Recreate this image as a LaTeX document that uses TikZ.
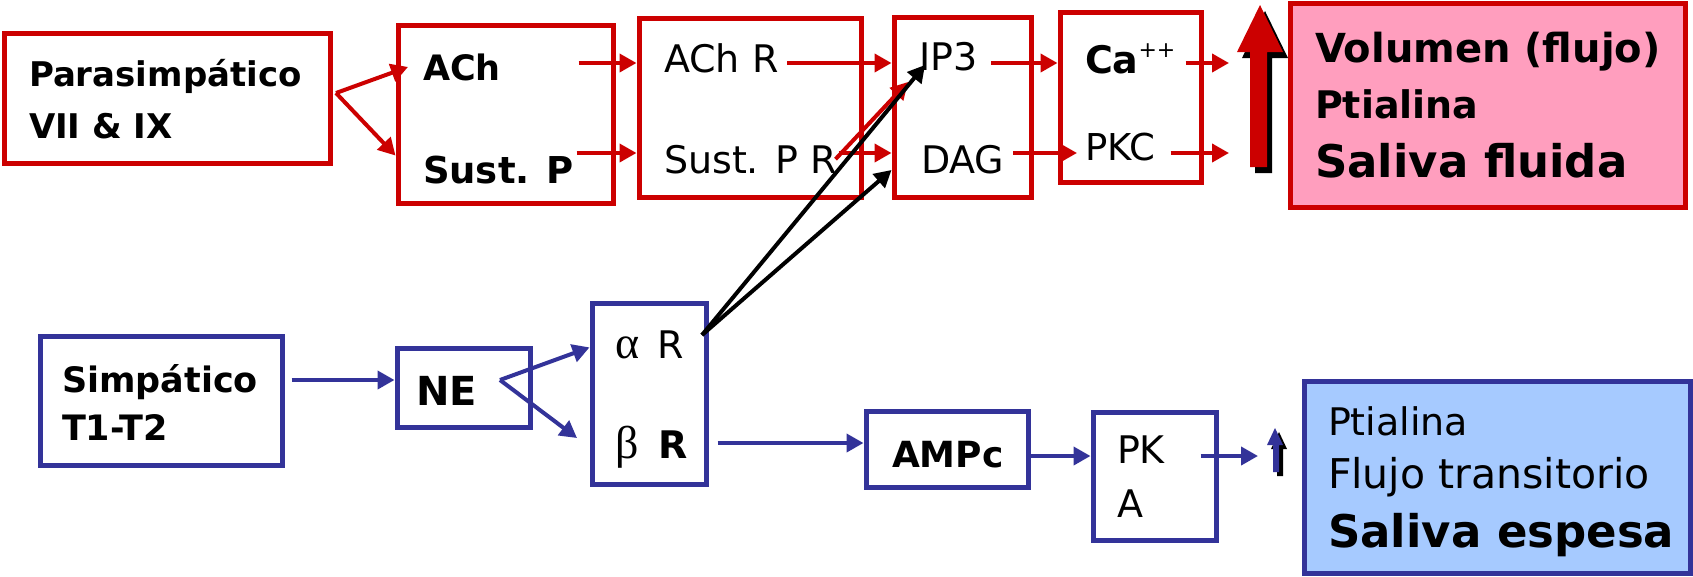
\documentclass[tikz,border=0pt]{standalone}
\usepackage{fontspec}
\setmainfont{DejaVu Sans}
\newfontfamily\greekf{Liberation Serif}
\usetikzlibrary{arrows.meta}
\definecolor{myred}{RGB}{204,0,0}
\definecolor{myblue}{RGB}{51,51,153}
\definecolor{mypink}{RGB}{255,158,190}
\definecolor{mylblue}{RGB}{166,202,255}
\newcommand{\fs}[1]{\fontsize{#1}{#1}\selectfont}
\begin{document}
\begin{tikzpicture}[x=1pt,y=-1pt,
  rbox/.style={draw=myred, line width=5pt, inner sep=0pt},
  bbox/.style={draw=myblue, line width=5pt, inner sep=0pt},
  lbl/.style={anchor=base west, inner sep=0pt, outer sep=0pt, text=black},
  tip/.style={-{Triangle[length=17pt,width=18pt]}},
  rarr/.style={draw=myred, line width=4pt, tip},
  barr/.style={draw=myblue, line width=4pt, tip},
  karr/.style={draw=black, line width=4pt, tip}]
\useasboundingbox (0,0) rectangle (1693,576);
% boxes
\node[rbox, minimum width=326pt, minimum height=130pt] (para) at (167,98) {};
\node[rbox, minimum width=215pt, minimum height=178pt] (ach) at (505.5,114) {};
\node[rbox, minimum width=222pt, minimum height=179pt] (achr) at (750,107.5) {};
\node[rbox, minimum width=137pt, minimum height=180pt] (ip3b) at (962.5,107) {};
\node[rbox, minimum width=141pt, minimum height=170pt] (cab) at (1130.5,97) {};
\node[rbox, fill=mypink, minimum width=395pt, minimum height=204pt] (pink) at (1487.5,105) {};
\node[bbox, minimum width=242pt, minimum height=129pt] (simp) at (161,400.5) {};
\node[bbox, minimum width=133pt, minimum height=79pt] (ne) at (463.5,387.5) {};
\node[bbox, minimum width=114pt, minimum height=181pt] (ab) at (649,393.5) {};
\node[bbox, minimum width=162pt, minimum height=76pt] (ampc) at (947,449.5) {};
\node[bbox, minimum width=123pt, minimum height=128pt] (pka) at (1154.5,476) {};
\node[bbox, fill=mylblue, minimum width=386pt, minimum height=192pt] (blue) at (1497,477) {};
% texts top
\node[lbl] (parat1) at (29,86) {\fs{34}\bfseries Parasimpático};
\node[lbl] (parat2) at (29,138) {\fs{34}\bfseries VII \& IX};
\node[lbl] (acht) at (423,80) {\fs{35}\bfseries ACh};
\node[lbl] (sustpt) at (423,183) {\fs{37}\bfseries Sust. P};
\node[lbl] (achrt) at (664,72) {\fs{38}ACh R};
\node[lbl] (sprt) at (664,173) {\fs{38}Sust. P R};
\node[lbl] (ip3t) at (919,70) {\fs{38}IP3};
\node[lbl] (dagt) at (921,173) {\fs{38}DAG};
\node[lbl] (cat) at (1085,73) {\fs{38}\bfseries Ca\raisebox{0.42em}{\fs{22}\mdseries ++}};
\node[lbl] (pkct) at (1085,160) {\fs{37}PKC};
\node[lbl] (volt) at (1315,62) {\fs{40}\bfseries Volumen (flujo)};
\node[lbl] (ptialt) at (1315,118) {\fs{38}\bfseries Ptialina};
\node[lbl] (fluidt) at (1315,177) {\fs{45}\bfseries Saliva fluida};
% texts bottom
\node[lbl] (simpt1) at (62,392) {\fs{35}\bfseries Simpático};
\node[lbl] (simpt2) at (62,440) {\fs{35}\bfseries T1-T2};
\node[lbl] (net) at (416,405) {\fs{40}\bfseries NE};
\node[lbl] (alphat) at (615,358) {\fs{46}\greekf α};
\node[lbl] (alphaRt) at (657,358) {\fs{38}R};
\node[lbl] (betat) at (615,458) {\fs{46}\greekf β};
\node[lbl] (betaRt) at (658,458) {\fs{38}\bfseries R};
\node[lbl] (ampct) at (892,467) {\fs{36}\bfseries AMPc};
\node[lbl] (pkt) at (1117,463) {\fs{38}PK};
\node[lbl] (pkat) at (1117,517) {\fs{38}A};
\node[lbl] (ptial2t) at (1328,435) {\fs{38}Ptialina};
\node[lbl] (flujot) at (1328,488) {\fs{41}Flujo transitorio};
\node[lbl] (espesat) at (1328,547) {\fs{45}\bfseries Saliva espesa};
% big arrows
\fill[black, shift={(5,6)}] (1250,167) -- (1250,52) -- (1237,52) -- (1260,5) -- (1283,52) -- (1267,52) -- (1267,167) -- cycle;
\fill[myred] (1250,167) -- (1250,52) -- (1237,52) -- (1260,5) -- (1283,52) -- (1267,52) -- (1267,167) -- cycle;
\fill[black, shift={(4,4)}] (1273,472) -- (1273,445) -- (1267,445) -- (1275,428) -- (1283,445) -- (1279,445) -- (1279,472) -- cycle;
\fill[myblue] (1273,472) -- (1273,445) -- (1267,445) -- (1275,428) -- (1283,445) -- (1279,445) -- (1279,472) -- cycle;
% reference coordinates
\coordinate (rowA) at (0,63);
\coordinate (rowB) at (0,153);
\coordinate (rowC) at (0,380);
\coordinate (rowD) at (0,443);
\coordinate (rowE) at (0,456);
\coordinate (pj) at (336,93);
\coordinate (nj) at (500,380);
\coordinate (ks) at (702,335);
\coordinate (outA) at (1229,0);
\coordinate (outB) at (1258,0);
\coordinate (dg) at (908,82);
\coordinate (b3) at (577,438);
% red connectors
\draw[rarr] (pj) -- ([xshift=-15pt]acht.west);
\draw[rarr] (pj) -- (ach.west |- sustpt.north);
\draw[rarr] ([xshift=-37pt]ach.east |- rowA) -- (achr.west |- rowA);
\draw[rarr] ([xshift=-39pt]ach.east |- rowB) -- (achr.west |- rowB);
\draw[rarr] ([xshift=9pt]achrt.east |- rowA) -- (ip3b.west |- rowA);
\draw[rarr] ([xshift=-25pt]achr.east |- rowB) -- (ip3b.west |- rowB);
\draw[rarr] ([xshift=-28pt]achr.east |- sprt.west) -- (dg);
\draw[rarr] ([xshift=14pt]ip3t.east |- rowA) -- (cab.west |- rowA);
\draw[rarr] ([xshift=9pt]dagt.east |- rowB) -- ([xshift=-8pt]pkct.west |- rowB);
\draw[rarr] ([xshift=-18pt]cab.east |- rowA) -- (outA |- rowA);
\draw[rarr] ([xshift=-33pt]cab.east |- rowB) -- (outA |- rowB);
% black connectors
\draw[karr] (ks) -- ([shift={(6pt,5pt)}]ip3t.base west);
\draw[karr] (ks) -- ([yshift=-63pt]ip3b.west);
% blue connectors
\draw[barr] ([xshift=7pt]simp.east |- rowC) -- (ne.west |- rowC);
\draw[barr] (nj) -- (ab.west |- alphat.west);
\draw[barr] (nj) -- (b3);
\draw[barr] ([xshift=9pt]ab.east |- rowD) -- (ampc.west |- rowD);
\draw[barr] (ampc.east |- rowE) -- (pka.west |- rowE);
\draw[barr] ([xshift=-18pt]pka.east |- rowE) -- (outB |- rowE);
\end{tikzpicture}
\end{document}
